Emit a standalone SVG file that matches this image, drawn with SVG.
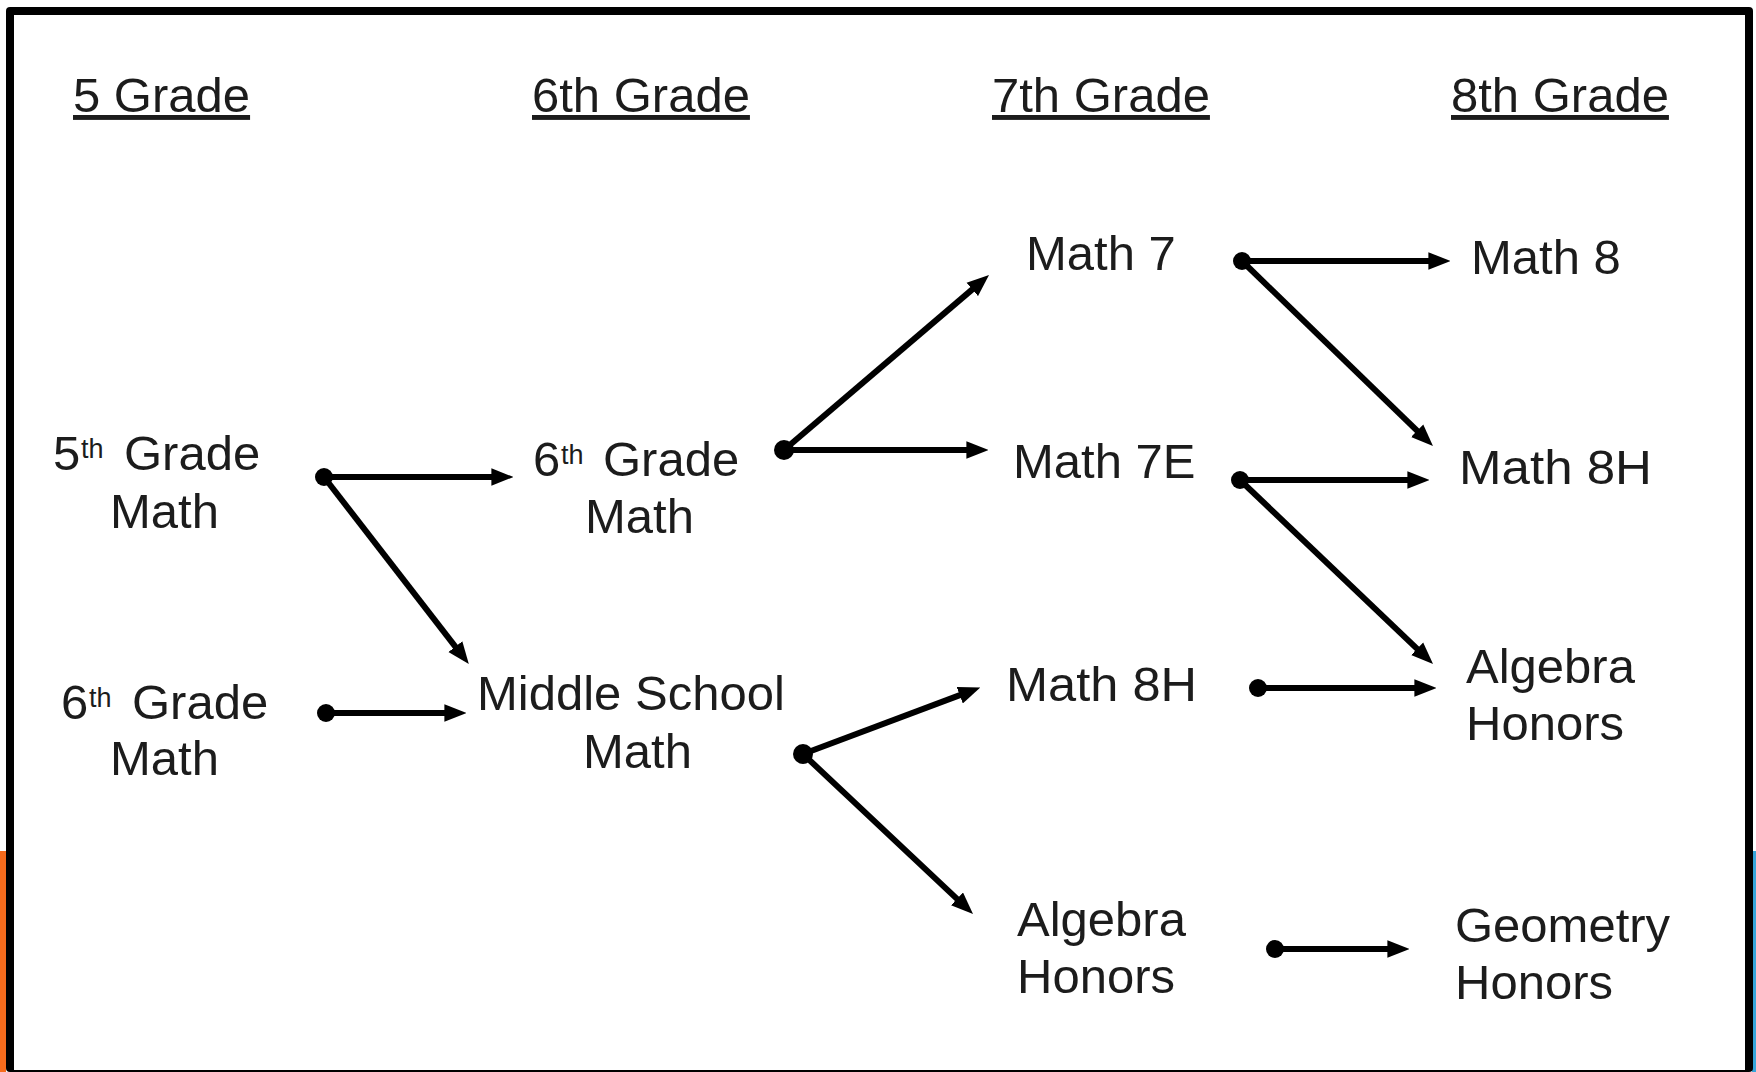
<svg xmlns="http://www.w3.org/2000/svg" width="1756" height="1072" viewBox="0 0 1756 1072">
<style>
  text { font-family: "Liberation Sans", Arial, sans-serif; fill: #1c1c1c; }
  .hdr { font-size: 49px; text-decoration: underline; }
  .lbl { font-size: 49px; }
  .sup { font-size: 27px; }
  .conn line { stroke: #000; stroke-width: 6; fill: none; }
  .conn circle { fill: #000; }
</style>
<defs>
  <marker id="ah" markerUnits="userSpaceOnUse" markerWidth="22" markerHeight="18" refX="6" refY="8" orient="auto" viewBox="0 0 20 16">
    <path d="M0,0 L20,8 L0,16 z" fill="#000"/>
  </marker>
</defs>
<rect x="0" y="0" width="1756" height="1072" fill="#fff"/>
<rect x="0" y="851" width="6" height="221" fill="#F76B1C"/>
<rect x="1752" y="851" width="4" height="221" fill="#36A6DA"/>
<rect x="6" y="7" width="1747" height="1065" rx="4" fill="#000"/>
<rect x="14" y="15" width="1731" height="1055" fill="#fff"/>

<g id="headers">
  <text class="hdr" x="73" y="112">5 Grade</text>
  <text class="hdr" x="532" y="112">6th Grade</text>
  <text class="hdr" x="992" y="112">7th Grade</text>
  <text class="hdr" x="1451" y="112">8th Grade</text>
</g>

<g id="node-5th-grade-math">
  <text class="lbl" y="470"><tspan x="53">5</tspan><tspan class="sup" x="81" y="458">th</tspan><tspan x="124" y="470">Grade</tspan></text>
  <text class="lbl" x="110" y="528">Math</text>
</g>
<g id="node-6th-grade-math-left">
  <text class="lbl" y="719"><tspan x="61">6</tspan><tspan class="sup" x="89" y="707">th</tspan><tspan x="132" y="719">Grade</tspan></text>
  <text class="lbl" x="110" y="775">Math</text>
</g>
<g id="node-6th-grade-math">
  <text class="lbl" y="476"><tspan x="533">6</tspan><tspan class="sup" x="561" y="464">th</tspan><tspan x="603" y="476">Grade</tspan></text>
  <text class="lbl" x="585" y="533">Math</text>
</g>
<g id="node-middle-school-math">
  <text class="lbl" x="477" y="710">Middle School</text>
  <text class="lbl" x="583" y="768">Math</text>
</g>
<g id="node-math7">
  <text class="lbl" x="1026" y="270">Math 7</text>
</g>
<g id="node-math7e">
  <text class="lbl" x="1013" y="478">Math 7E</text>
</g>
<g id="node-math8h-7">
  <text class="lbl" x="1006" y="701" textLength="191" lengthAdjust="spacingAndGlyphs">Math 8H</text>
</g>
<g id="node-algebra-honors-7">
  <text class="lbl" x="1017" y="936">Algebra</text>
  <text class="lbl" x="1017" y="993">Honors</text>
</g>
<g id="node-math8">
  <text class="lbl" x="1471" y="274">Math 8</text>
</g>
<g id="node-math8h-8">
  <text class="lbl" x="1459" y="484" textLength="193" lengthAdjust="spacingAndGlyphs">Math 8H</text>
</g>
<g id="node-algebra-honors-8">
  <text class="lbl" x="1466" y="683">Algebra</text>
  <text class="lbl" x="1466" y="740">Honors</text>
</g>
<g id="node-geometry-honors">
  <text class="lbl" x="1455" y="942">Geometry</text>
  <text class="lbl" x="1455" y="999">Honors</text>
</g>

<g id="connectors" class="conn">
  <circle cx="324" cy="477" r="9"/>
  <line x1="324" y1="477" x2="498" y2="477" marker-end="url(#ah)"/>
  <line x1="324" y1="477" x2="459.4" y2="651.9" marker-end="url(#ah)"/>
  <circle cx="326" cy="713" r="9"/>
  <line x1="326" y1="713" x2="451" y2="713" marker-end="url(#ah)"/>

  <circle cx="784" cy="450" r="10"/>
  <line x1="784" y1="450" x2="977.3" y2="285.1" marker-end="url(#ah)"/>
  <line x1="784" y1="450" x2="973" y2="450" marker-end="url(#ah)"/>
  <circle cx="803" cy="754" r="10"/>
  <line x1="803" y1="754" x2="965.9" y2="692.9" marker-end="url(#ah)"/>
  <line x1="803" y1="754" x2="961.8" y2="903.4" marker-end="url(#ah)"/>

  <circle cx="1242" cy="261" r="9"/>
  <line x1="1242" y1="261" x2="1435" y2="261" marker-end="url(#ah)"/>
  <line x1="1242" y1="261" x2="1421.9" y2="435.3" marker-end="url(#ah)"/>
  <circle cx="1240" cy="480" r="9"/>
  <line x1="1240" y1="480" x2="1414" y2="480" marker-end="url(#ah)"/>
  <line x1="1240" y1="480" x2="1421.9" y2="653.3" marker-end="url(#ah)"/>
  <circle cx="1258" cy="688" r="9"/>
  <line x1="1258" y1="688" x2="1421" y2="688" marker-end="url(#ah)"/>
  <circle cx="1275" cy="949" r="9"/>
  <line x1="1275" y1="949" x2="1394" y2="949" marker-end="url(#ah)"/>
</g>
</svg>
